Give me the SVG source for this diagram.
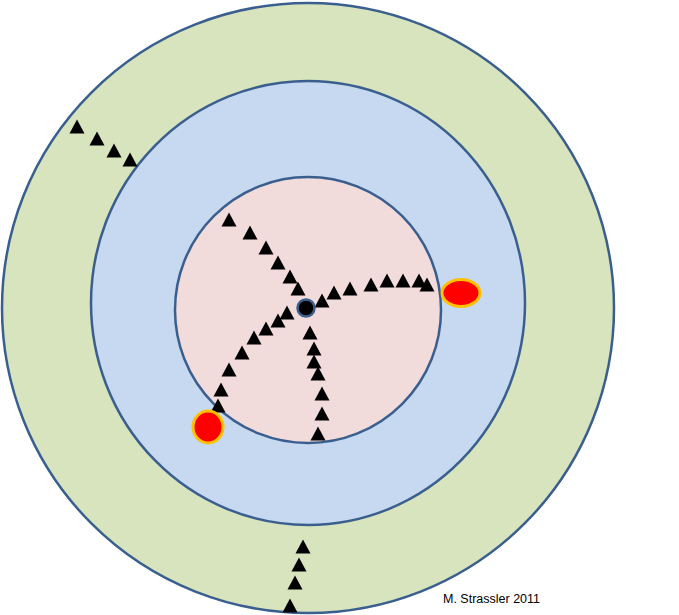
<svg xmlns="http://www.w3.org/2000/svg" xmlns:xlink="http://www.w3.org/1999/xlink" width="679" height="615" viewBox="0 0 679 615">
<style>.ring{stroke:#3a5f8f;stroke-width:2.5}.t{fill:#000}.red{fill:#ff0000;stroke:#ffc000;stroke-width:3}</style>
<defs><path id="t" d="M0,-7.5 L7.5,6.5 L-7.5,6.5Z"/></defs>
<rect width="679" height="615" fill="#fff"/>
<g id="outer"><ellipse class="ring" cx="308" cy="308" rx="306" ry="305" fill="#d7e4bd"/></g>
<g id="middle"><ellipse class="ring" cx="308" cy="303" rx="217" ry="222" fill="#c6d9f0"/></g>
<g id="inner"><ellipse class="ring" cx="308" cy="310" rx="133" ry="133" fill="#f2dcdb"/></g>
<g id="tracks" class="t">
<use href="#t" x="229" y="220"/><use href="#t" x="250" y="233"/><use href="#t" x="266" y="248"/><use href="#t" x="278" y="263"/><use href="#t" x="290" y="277"/><use href="#t" x="298" y="289"/>
<use href="#t" x="322" y="301"/><use href="#t" x="334" y="293"/><use href="#t" x="350" y="289"/><use href="#t" x="371" y="285"/><use href="#t" x="387" y="281"/><use href="#t" x="403" y="281"/><use href="#t" x="419" y="281"/><use href="#t" x="427" y="285"/>
<use href="#t" x="287" y="313"/><use href="#t" x="278" y="321"/><use href="#t" x="266" y="329"/><use href="#t" x="254" y="338"/><use href="#t" x="242" y="353"/><use href="#t" x="229" y="370"/><use href="#t" x="221" y="390"/><use href="#t" x="218" y="406"/>
<use href="#t" x="310" y="333"/><use href="#t" x="314" y="349"/><use href="#t" x="314" y="362"/><use href="#t" x="318" y="374"/><use href="#t" x="322" y="394"/><use href="#t" x="322" y="414"/><use href="#t" x="318" y="434"/>
<use href="#t" x="77" y="127"/><use href="#t" x="97" y="139"/><use href="#t" x="114" y="151"/><use href="#t" x="130" y="160"/>
<use href="#t" x="303" y="547"/><use href="#t" x="299" y="565"/><use href="#t" x="295" y="583"/><use href="#t" x="290" y="606"/>
</g>
<g id="vertex"><circle cx="306" cy="308" r="8.5" fill="#000" stroke="#3a5f8f" stroke-width="2.5"/></g>
<g id="red1"><ellipse class="red" cx="461" cy="293" rx="19" ry="13.5"/></g>
<g id="red2"><ellipse class="red" cx="208" cy="427" rx="15" ry="16"/></g>
<text x="443" y="603" font-family="Liberation Sans, sans-serif" font-size="12.5" fill="#000">M. Strassler 2011</text>
</svg>
